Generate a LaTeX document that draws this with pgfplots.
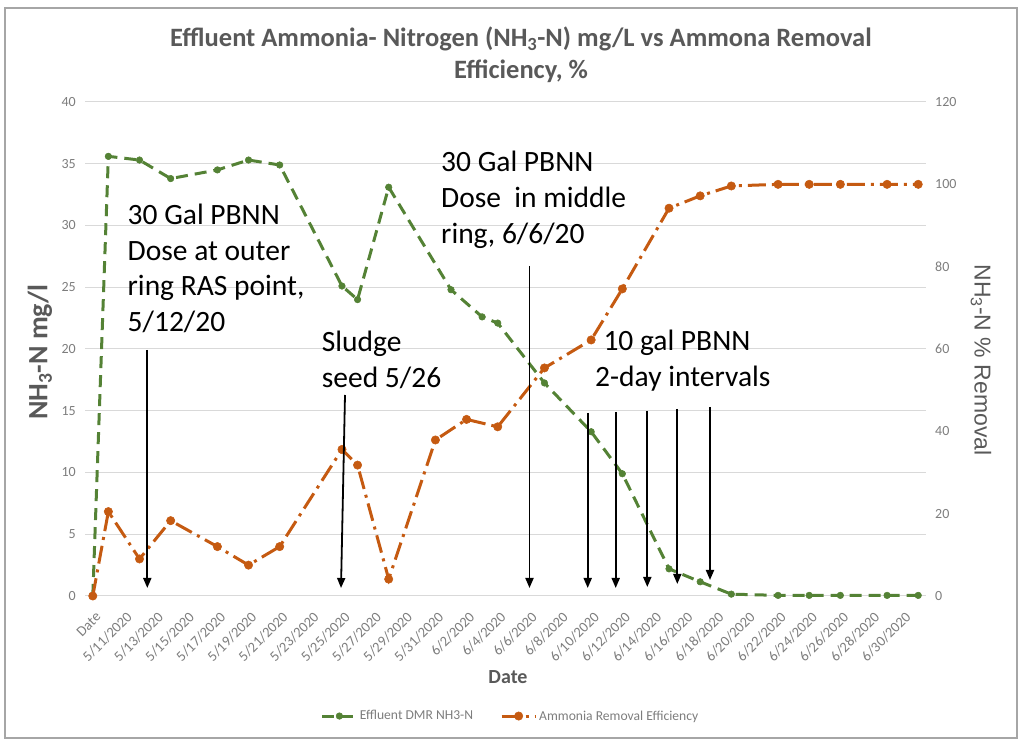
\documentclass[border=0pt]{standalone}
\usepackage{fontspec}
\setmainfont{Carlito}
\newfontfamily\arialfont{Liberation Sans}
\usepackage{pgfplots}
\pgfplotsset{compat=1.18}
\usetikzlibrary{arrows.meta}
\definecolor{grn}{RGB}{84,130,53}
\definecolor{org}{RGB}{197,90,17}
\definecolor{txtgray}{RGB}{89,89,89}
\definecolor{tickgray}{RGB}{125,125,125}
\definecolor{gridgray}{RGB}{217,217,217}
\newcommand{\fs}[2]{\fontsize{#1bp}{#2bp}\selectfont}
\pgfplotsset{
  grnstyle/.style={grn, line width=3bp, dash pattern=on 12bp off 7bp, mark=*, mark size=3.3bp, mark options={solid, fill=grn, draw=grn, line width=0.5bp}},
  orgstyle/.style={org, line width=3bp, dash pattern=on 18bp off 6bp on 3bp off 6bp, mark=*, mark size=4.2bp, mark options={solid, fill=org, draw=org, line width=0.5bp}},
}
\begin{document}
\begin{tikzpicture}
\path (0,0) rectangle (1024bp,749bp);
\draw[color=gray!70, line width=1.2bp] (5bp,11bp) rectangle (1017bp,741bp);
\begin{axis}[
  at={(85bp,153bp)}, anchor=south west,
  scale only axis, width=841bp, height=494bp,
  xmin=-0.5, xmax=53.5, ymin=0, ymax=40,
  xtick={0,2,...,52},
  xticklabels={Date,5/11/2020,5/13/2020,5/15/2020,5/17/2020,5/19/2020,5/21/2020,5/23/2020,5/25/2020,5/27/2020,5/29/2020,5/31/2020,6/2/2020,6/4/2020,6/6/2020,6/8/2020,6/10/2020,6/12/2020,6/14/2020,6/16/2020,6/18/2020,6/20/2020,6/22/2020,6/24/2020,6/26/2020,6/28/2020,6/30/2020},
  ytick={0,5,...,40},
  ymajorgrids, grid style={gridgray, line width=1bp},
  axis line style={draw=none},
  major tick length=0pt, tick style={draw=none},
  /pgf/number format/assume math mode=true,
  yticklabel style={font=\fs{14}{14}, color=tickgray, anchor=east, inner sep=0pt, xshift=-9bp},
  xticklabel style={font=\fs{14.5}{14.5}, color=tickgray, rotate=45, anchor=east, inner sep=0pt, xshift=-9bp, yshift=-17bp},
  clip=false,
]
\addplot[grnstyle] coordinates {
(0,0) (1,35.6) (3,35.3) (5,33.8) (8,34.5) (10,35.3) (12,34.9) (16,25.1) (17,24.0) (19,33.1)
(23,24.8) (25,22.6) (26,22.1) (29,17.25) (32,13.3) (34,9.9) (37,2.2) (39,1.15) (41,0.15)
(44,0.05) (46,0.05) (48,0.05) (51,0.05) (53,0.05)};
\end{axis}
\begin{axis}[
  at={(85bp,153bp)}, anchor=south west,
  scale only axis, width=841bp, height=494bp,
  xmin=-0.5, xmax=53.5, ymin=0, ymax=120,
  axis x line=none, axis y line*=right,
  ytick={0,20,...,120},
  axis line style={draw=none},
  major tick length=0pt, tick style={draw=none},
  /pgf/number format/assume math mode=true,
  yticklabel style={font=\fs{14}{14}, color=tickgray, anchor=west, inner sep=0pt, xshift=9bp},
  clip=false,
  legend style={at={(0.506,-0.243)}, anchor=center, draw=none, fill=none, legend columns=2,
    font=\fs{13.6}{13.6}, text=tickgray, inner sep=0pt,
    /tikz/every even column/.append style={column sep=25bp}},
  legend image code/.code={\draw[mark repeat=2, mark phase=2, #1] plot coordinates {(0bp,0bp) (17bp,0bp) (34bp,0bp)};},
]
\addlegendimage{grnstyle}
\addlegendentry{Effluent DMR NH3-N}
\addplot[orgstyle] coordinates {
(0,0) (1,20.5) (3,9.0) (5,18.3) (8,12.0) (10,7.5) (12,12.0) (16,35.6) (17,31.8) (19,4.1)
(22,37.9) (24,42.9) (26,41.1) (29,55.4) (32,62.2) (34,74.6) (37,94.2) (39,97.2) (41,99.6)
(44,100) (46,100) (48,100) (51,100) (53,100)};
\addlegendentry{Ammonia Removal Efficiency}
\end{axis}
% titles
\node[anchor=base, font=\bfseries\fs{26.5}{32}, text=txtgray] at (521bp,702bp) {Effluent Ammonia- Nitrogen (NH\textsubscript{3}-N) mg/L vs Ammona Removal};
\node[anchor=base, font=\bfseries\fs{26.5}{32}, text=txtgray] at (521bp,670bp) {Efficiency, \%};
\node[rotate=90, font=\bfseries\fs{28}{28}, text=txtgray] at (40bp,397bp) {NH\textsubscript{3}-N mg/l};
\node[rotate=-90, font=\arialfont\fs{23}{23}, text=txtgray] at (981bp,389bp) {NH\textsubscript{3}-N \% Removal};
\node[font=\bfseries\fs{20}{20}, text=txtgray] at (508bp,72bp) {Date};
% annotations
\begin{scope}[every node/.style={anchor=base west, inner sep=0pt, font=\fs{29.5}{36}, text=black}]
\node at (127.5bp,524.7bp) {30 Gal PBNN};
\node at (127.5bp,488.9bp) {Dose at outer};
\node at (127.5bp,453.1bp) {ring RAS point,};
\node at (127.5bp,417.3bp) {5/12/20};
\node at (321.7bp,397bp) {Sludge};
\node at (321.7bp,361bp) {seed 5/26};
\node at (441bp,577bp) {30 Gal PBNN};
\node at (441bp,541bp) {Dose~ in middle};
\node at (441bp,505bp) {ring, 6/6/20};
\node at (603.3bp,398bp) {10 gal PBNN};
\node at (595bp,362bp) {2-day intervals};
\end{scope}
\begin{scope}[line width=1.8bp, -{Triangle[length=10bp,width=8bp]}]
\draw (147.3bp,399bp) -- (147.3bp,161bp);
\draw (345bp,354bp) -- (341bp,161bp);
\draw (529.5bp,483bp) -- (529.5bp,161bp);
\draw (587.7bp,336bp) -- (587.7bp,161bp);
\draw (615.7bp,337bp) -- (615.7bp,161bp);
\draw (647.3bp,338bp) -- (647.3bp,162bp);
\draw (677.3bp,340bp) -- (677.3bp,165bp);
\draw (710bp,342bp) -- (710bp,169bp);
\end{scope}
\end{tikzpicture}
\end{document}
